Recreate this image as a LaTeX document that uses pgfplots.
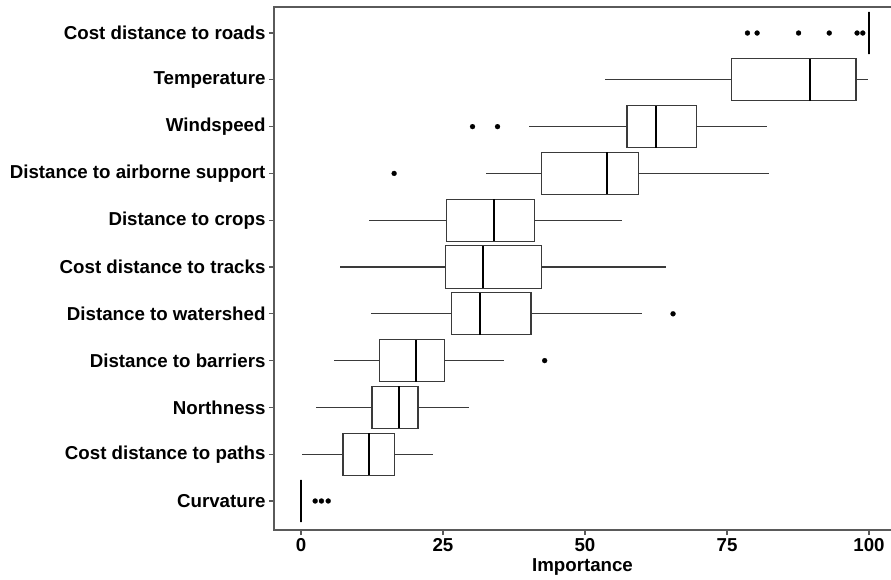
\documentclass[border=0pt]{standalone}
\usepackage{pgfplots}
\pgfplotsset{compat=1.18}
\usepgfplotslibrary{statistics}
\usepackage{fontspec}
\setmainfont{Liberation Sans}
\definecolor{boxc}{HTML}{3A3A3A}
\definecolor{framec}{HTML}{5A5A5A}
\pgfplotsset{
  bpstyle/.style={draw=boxc, line width=1.1pt, solid,
    mark=*, mark size=2.5pt, mark options={solid, fill=black, draw=black, line width=0.2pt},
    boxplot/every median/.style={draw=black, line width=2.2pt}}
}
\begin{document}
\begin{tikzpicture}
\path[use as bounding box] (-274pt,-49pt) rectangle (617pt,530pt);
\begin{axis}[
  at={(0,0)}, anchor=south west,
  scale only axis, width=617pt, height=523pt,
  xmin=-4.75, xmax=103.87, ymin=-0.62, ymax=10.556,
  xtick={0,25,50,75,100},
  ytick={0,1,2,3,4,5,6,7,8,9,10},
  yticklabels={Curvature, Cost distance to paths, Northness, Distance to barriers, Distance to watershed, Cost distance to tracks, Distance to crops, Distance to airborne support, Windspeed, Temperature, Cost distance to roads},
  tick align=outside, xtick pos=bottom, ytick pos=left,
  major tick length=5pt,
  tick style={draw=framec, line width=1.2pt},
  axis line style={draw=none},
  ticklabel style={font=\fontsize{18.7}{22}\selectfont\bfseries},
  /pgf/number format/assume math mode=true,
  xlabel={Importance},
  xlabel style={font=\fontsize{18.7}{22}\selectfont\bfseries, yshift=0pt},
  boxplot/draw direction=x,
  boxplot/box extend=0.9,
  boxplot/whisker extend=0,
  clip=false,
]
\draw[framec, line width=1.4pt] (rel axis cs:1.02,1) -- (rel axis cs:0,1) -- (rel axis cs:0,0) -- (rel axis cs:1.02,0);
% Cost distance to roads
\addplot[bpstyle, boxplot prepared={lower whisker=100, lower quartile=100, median=100, upper quartile=100, upper whisker=100, draw position=10}]
  table[row sep=\\, y index=0]{v\\ 78.6\\ 80.3\\ 87.6\\ 93.0\\ 97.9\\ 98.9\\};
% Temperature
\addplot[bpstyle, boxplot prepared={lower whisker=53.5, lower quartile=75.8, median=89.6, upper quartile=97.7, upper whisker=99.9, draw position=9}]
  coordinates {};
% Windspeed
\addplot[bpstyle, boxplot prepared={lower whisker=40.2, lower quartile=57.4, median=62.5, upper quartile=69.6, upper whisker=82.0, draw position=8}]
  table[row sep=\\, y index=0]{v\\ 30.2\\ 34.6\\};
% Distance to airborne support
\addplot[bpstyle, boxplot prepared={lower whisker=32.5, lower quartile=42.3, median=53.9, upper quartile=59.4, upper whisker=82.4, draw position=7}]
  table[row sep=\\, y index=0]{v\\ 16.4\\};
% Distance to crops
\addplot[bpstyle, boxplot prepared={lower whisker=11.9, lower quartile=25.6, median=34.0, upper quartile=41.1, upper whisker=56.5, draw position=6}]
  coordinates {};
% Cost distance to tracks
\addplot[bpstyle, boxplot prepared={lower whisker=6.95, lower quartile=25.5, median=32.0, upper quartile=42.4, upper whisker=64.2, draw position=5}]
  coordinates {};
% Distance to watershed
\addplot[bpstyle, boxplot prepared={lower whisker=12.3, lower quartile=26.5, median=31.5, upper quartile=40.5, upper whisker=60.1, draw position=4}]
  table[row sep=\\, y index=0]{v\\ 65.5\\};
% Distance to barriers
\addplot[bpstyle, boxplot prepared={lower whisker=5.8, lower quartile=13.9, median=20.3, upper quartile=25.2, upper whisker=35.8, draw position=3}]
  table[row sep=\\, y index=0]{v\\ 42.9\\};
% Northness
\addplot[bpstyle, boxplot prepared={lower whisker=2.7, lower quartile=12.5, median=17.2, upper quartile=20.6, upper whisker=29.5, draw position=2}]
  coordinates {};
% Cost distance to paths
\addplot[bpstyle, boxplot prepared={lower whisker=0.1, lower quartile=7.4, median=12.0, upper quartile=16.5, upper whisker=23.3, draw position=1}]
  coordinates {};
% Curvature
\addplot[bpstyle, boxplot prepared={lower whisker=0, lower quartile=0, median=0, upper quartile=0, upper whisker=0, draw position=0}]
  table[row sep=\\, y index=0]{v\\ 2.5\\ 3.6\\ 4.8\\};
\end{axis}
\end{tikzpicture}
\end{document}
